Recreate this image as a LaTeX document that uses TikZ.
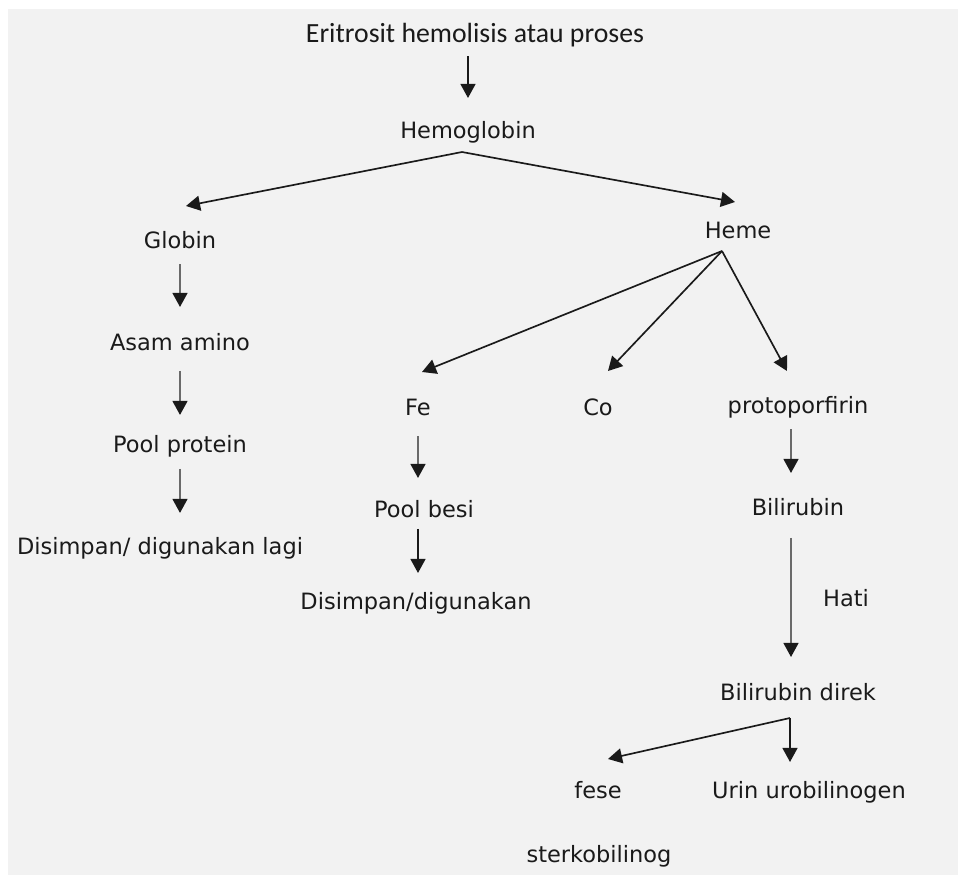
\documentclass[tikz,border=0pt]{standalone}
\usepackage{fontspec}
\setmainfont{DejaVu Sans}
\newfontfamily\titlefont{Carlito}
\usetikzlibrary{arrows.meta}
\definecolor{paper}{HTML}{F2F2F2}
\definecolor{ink}{HTML}{1A1A1A}
\definecolor{shaft}{HTML}{6A6A6A}

\begin{document}
\begin{tikzpicture}[x=0.02cm,y=-0.02cm,->,>={Triangle[length=8pt,width=8.5pt]},line width=0.95pt,color=ink,node distance=2.04cm,
  main node/.style={font=\fontsize{12.8}{15}\selectfont,inner sep=1pt,text height=10pt,text depth=3pt},
  pale/.style={draw=shaft,-{Triangle[length=8pt,width=8.5pt,color=ink]}}]

  \useasboundingbox (0,0) rectangle (958,875);
  \fill[paper] (8,9) rectangle (958,875);

  \node[main node,font=\titlefont\fontsize{15.8}{18}\selectfont] (eri) at (475,36) {Eritrosit hemolisis atau proses};
  \node[main node] (hb) at (468,132) {Hemoglobin};
  \node[main node] (glo) at (180,242) {Globin};
  \node[main node] (asam) [below of=glo] {Asam amino};
  \node[main node] (pool) [below of=asam] {Pool protein};
  \node[main node] (simpan) [below of=pool,xshift=-0.4cm] {Disimpan/ digunakan lagi};
  \node[main node] (heme) at (738,232) {Heme};
  \node[main node] (fe) at (418,409) {Fe};
  \node[main node] (co) at (598,409) {Co};
  \node[main node] (proto) at (798,407) {protoporfirin};
  \node[main node] (besi) [below of=fe,xshift=0.12cm] {Pool besi};
  \node[main node] (simpanfe) at (416,603) {Disimpan/digunakan};
  \node[main node] (bil) [below of=proto] {Bilirubin};
  \node[main node] (hati) at (846,600) {Hati};
  \node[main node] (direk) at (798,694) {Bilirubin direk};
  \node[main node] (fese) at (598,792) {fese};
  \node[main node] (urin) at (809,792) {Urin urobilinogen};
  \node[main node] (sterko) at (599,856) {sterkobilinog};

  \coordinate (hb fork) at ([xshift=-0.12cm,yshift=-0.12cm]hb.south);
  \coordinate (heme fork) at ([xshift=-0.32cm,yshift=-0.1cm]heme.south);
  \coordinate (direk fork) at ([xshift=-0.16cm,yshift=-0.2cm]direk.south);

  \draw[shorten <=0.12cm,shorten >=0.4cm] (eri.south -| hb) -- (hb);

  \path (hb fork) edge ([xshift=0.12cm,yshift=0.44cm]glo.north)
                  edge ([xshift=-0.06cm,yshift=0.32cm]heme.north);

  \draw[pale,shorten <=0.16cm,shorten >=0.46cm] (glo) -- (asam);
  \draw[pale,shorten <=0.26cm,shorten >=0.34cm] (asam) -- (pool);
  \draw[pale,shorten <=0.18cm,shorten >=0.42cm] (pool) -- (pool |- simpan.north);

  \path (heme fork) edge ([xshift=0.08cm,yshift=0.46cm]fe.north)
                    edge ([xshift=0.2cm,yshift=0.48cm]co.north)
                    edge ([xshift=-0.22cm,yshift=0.44cm]proto.north);

  \draw[pale,shorten <=0.26cm,shorten >=0.38cm] (fe) -- (fe |- besi.north);
  \draw[shorten <=0.08cm,shorten >=0.32cm] (besi.south -| fe) -- (fe |- simpanfe.north);

  \draw[pale,shorten <=0.16cm,shorten >=0.44cm] ([xshift=-0.14cm]proto.south) -- ([xshift=-0.14cm]proto.south |- bil.north);
  \draw[pale,shorten <=0.3cm,shorten >=0.46cm] ([xshift=-0.14cm]bil.south) -- ([xshift=-0.14cm]bil.south |- direk.north);

  \path (direk fork) edge ([xshift=0.2cm,yshift=0.38cm]fese.north)
                     edge[shorten >=0.32cm] (direk fork |- urin.north);
\end{tikzpicture}
\end{document}
